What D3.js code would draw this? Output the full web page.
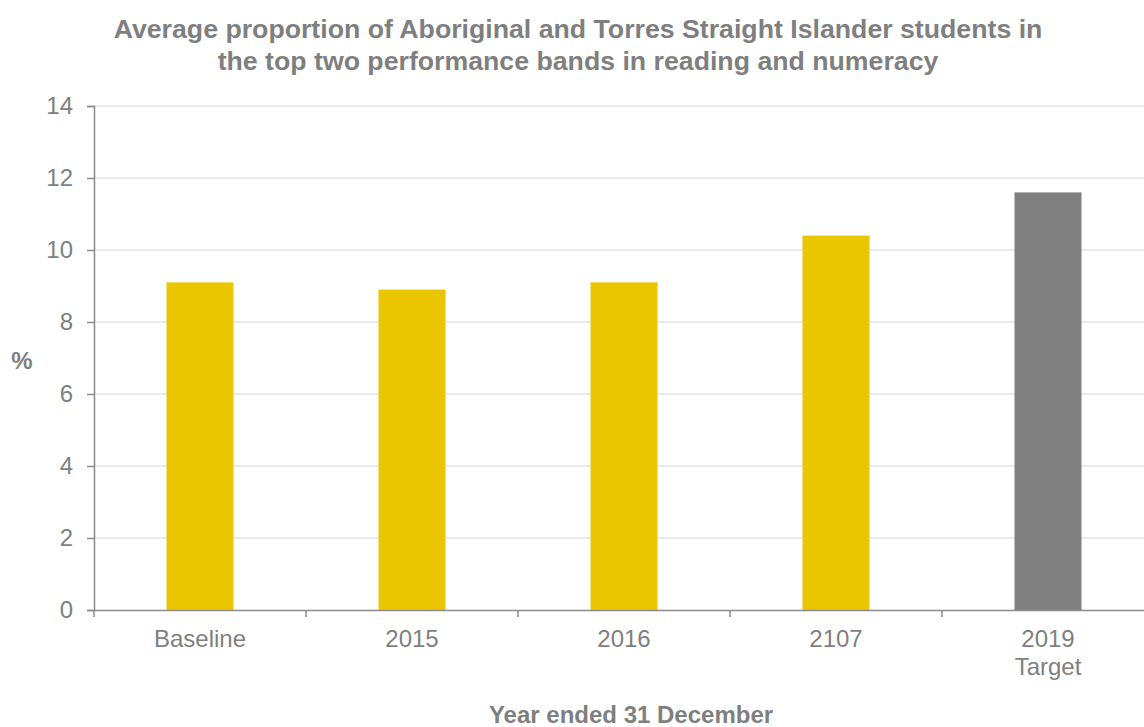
<!DOCTYPE html>
<html>
<head>
<meta charset="utf-8">
<script src="https://cdn.jsdelivr.net/npm/d3@7"></script>
<style>
  body { margin: 0; background: #fff; }
  svg { display: block; font-family: "Liberation Sans", Arial, sans-serif; }
</style>
</head>
<body>
<svg id="chart"></svg>
<script>
// data
const categories = ["Baseline", "2015", "2016", "2107", "2019\nTarget"];
const values = [9.1, 8.9, 9.1, 10.4, 11.6];
const barColors = ["#EAC600", "#EAC600", "#EAC600", "#EAC600", "#808080"];
const yTicks = [0, 2, 4, 6, 8, 10, 12, 14];

const size = {width: 1144, height: 727};
const margin = {top: 106, right: -10, bottom: 117, left: 94};

const svg = d3.select("#chart")
    .attr("width", size.width)
    .attr("height", size.height);

const x = d3.scaleBand()
    .domain(categories)
    .range([margin.left, size.width - margin.right])
    .padding(0);

const y = d3.scaleLinear()
    .domain([0, 14])
    .range([size.height - margin.bottom, margin.top]);

const textColor = "#7f7f7f";
const axisColor = "#8c8c8c";

// gridlines
svg.append("g")
    .selectAll("line")
    .data(yTicks.filter(d => d > 0))
    .join("line")
    .attr("x1", margin.left)
    .attr("x2", size.width)
    .attr("y1", d => y(d))
    .attr("y2", d => y(d))
    .attr("stroke", "#e3e3e3")
    .attr("stroke-width", 1.5);

// bars
const barFrac = 67 / 212;
svg.append("g")
    .selectAll("rect")
    .data(values)
    .join("rect")
    .attr("x", (d, i) => x(categories[i]) + x.bandwidth() * (1 - barFrac) / 2)
    .attr("width", x.bandwidth() * barFrac)
    .attr("y", d => y(d))
    .attr("height", d => y(0) - y(d))
    .attr("fill", (d, i) => barColors[i]);

// y axis
const yAxis = svg.append("g")
    .attr("transform", `translate(${margin.left},0)`)
    .call(d3.axisLeft(y).tickValues(yTicks).tickSize(7).tickPadding(14));
yAxis.select(".domain").attr("stroke", axisColor).attr("stroke-width", 1.5);
yAxis.selectAll(".tick line").attr("stroke", axisColor).attr("stroke-width", 1.5);
yAxis.selectAll(".tick text")
    .attr("fill", textColor)
    .style("font-size", "24px");

// x axis
const xAxis = svg.append("g")
    .attr("transform", `translate(0,${y(0)})`)
    .call(d3.axisBottom(x).tickSize(0).tickFormat(""));
xAxis.select(".domain").attr("stroke", axisColor).attr("stroke-width", 1.5);

// category dividers
svg.append("g")
    .selectAll("line")
    .data(categories)
    .join("line")
    .attr("x1", d => x(d))
    .attr("x2", d => x(d))
    .attr("y1", y(0))
    .attr("y2", y(0) + 7)
    .attr("stroke", axisColor)
    .attr("stroke-width", 1.5);

// category labels
svg.append("g")
    .selectAll("text")
    .data(categories)
    .join("text")
    .attr("text-anchor", "middle")
    .attr("fill", textColor)
    .style("font-size", "24px")
    .each(function (d) {
        const lines = d.split("\n");
        d3.select(this).selectAll("tspan")
            .data(lines)
            .join("tspan")
            .attr("x", x(d) + x.bandwidth() / 2)
            .attr("y", (l, i) => y(0) + 37 + i * 28)
            .text(l => l);
    });

// title
svg.append("text")
    .attr("text-anchor", "middle")
    .attr("fill", textColor)
    .style("font-size", "26.7px")
    .style("font-weight", "bold")
    .selectAll("tspan")
    .data(["Average proportion of Aboriginal and Torres Straight Islander students in",
           "the top two performance bands in reading and numeracy"])
    .join("tspan")
    .attr("x", 578)
    .attr("y", (d, i) => 38 + i * 32)
    .text(d => d);

// axis titles
svg.append("text")
    .attr("x", 22)
    .attr("y", 369)
    .attr("text-anchor", "middle")
    .attr("fill", textColor)
    .style("font-size", "24px")
    .style("font-weight", "bold")
    .text("%");

svg.append("text")
    .attr("x", 631)
    .attr("y", 723)
    .attr("text-anchor", "middle")
    .attr("fill", textColor)
    .style("font-size", "24px")
    .style("font-weight", "bold")
    .text("Year ended 31 December");
</script>
</body>
</html>
